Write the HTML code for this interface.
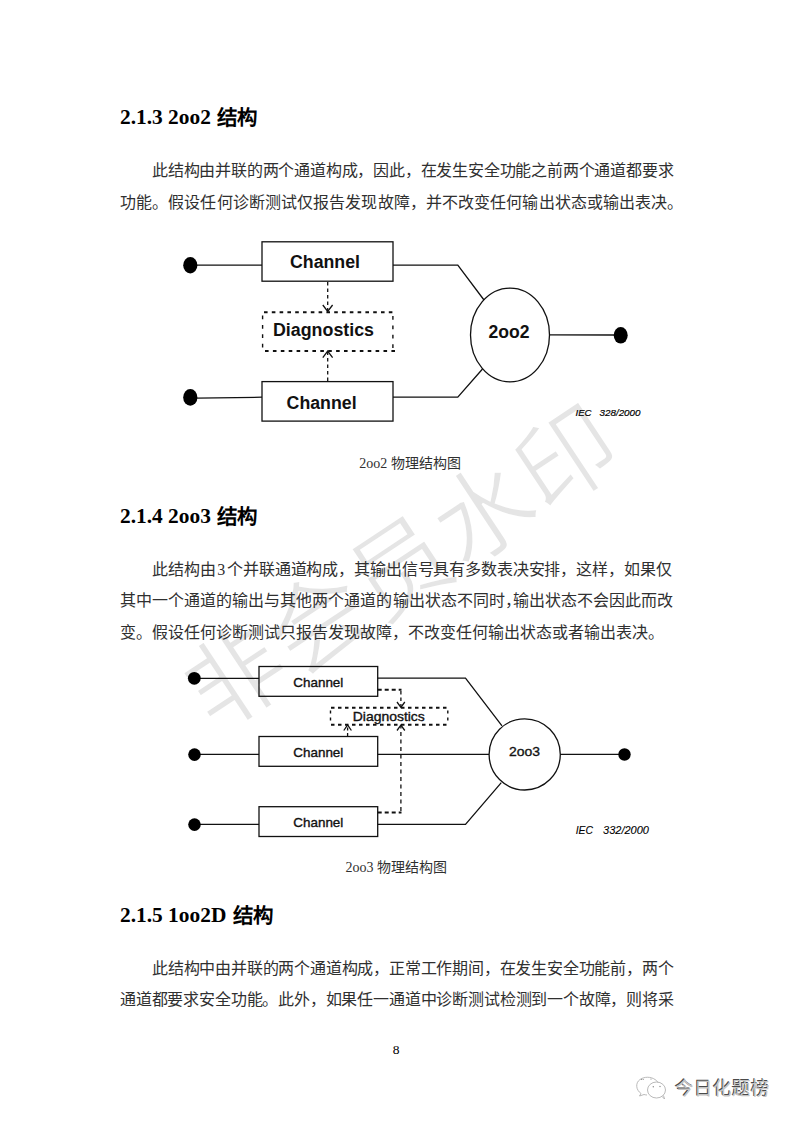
<!DOCTYPE html>
<html lang="zh-CN">
<head>
<meta charset="utf-8">
<style>
html,body{margin:0;padding:0;background:#fff;}
body{width:793px;height:1122px;position:relative;overflow:hidden;font-family:"Liberation Serif",serif;color:#303030;}
.l{position:absolute;white-space:nowrap;font-size:16px;line-height:16px;}
.h{position:absolute;white-space:nowrap;font-size:22px;line-height:22px;font-weight:bold;color:#000;transform:scaleX(0.972);transform-origin:0 0;}
.hc{position:absolute;white-space:nowrap;font-size:20.5px;line-height:22px;font-weight:bold;color:#000;}
.cap{position:absolute;white-space:nowrap;font-size:14px;line-height:14px;}
svg{position:absolute;left:0;top:0;}
.sans{font-family:"Liberation Sans",sans-serif;}
</style>
</head>
<body>
<!-- watermark -->
<div id="wm" style="position:absolute;left:402px;top:569px;width:0;height:0;">
<div style="position:absolute;left:-300px;top:-50px;width:600px;height:100px;transform:rotate(-33.5deg);transform-origin:300px 50px;font-family:'Liberation Sans',sans-serif;font-size:99px;line-height:100px;color:#e5e5e5;font-weight:300;-webkit-text-stroke:2px #fff;text-align:center;white-space:nowrap;">非会员水印</div>
</div>

<div class="h" style="left:120px;top:105.5px">2.1.3 2oo2</div><div class="hc" style="left:217px;top:107px">结构</div>
<div class="l" style="left:152px;top:162.5px;letter-spacing:-0.2px">此结构由并联的两个通道构成，因此，在发生安全功能之前两个通道都要求</div>
<div class="l" style="left:120px;top:194.5px;letter-spacing:0.1px">功能。假设任何诊断测试仅报告发现故障，并不改变任何输出状态或输出表决。</div>

<div class="cap" style="left:359.3px;top:456.5px">2oo2 物理结构图</div>

<div class="h" style="left:120px;top:504.5px">2.1.4 2oo3</div><div class="hc" style="left:217px;top:506px">结构</div>
<div class="l" style="left:152px;top:561.5px;letter-spacing:-0.13px;word-spacing:-2px">此结构由 3 个并联通道构成，其输出信号具有多数表决安排，这样，如果仅</div>
<div class="l" style="left:120px;top:592.5px;letter-spacing:0.03px">其中一个通道的输出与其他两个通道的输出状态不同时<span style="margin-right:-8px">，</span>输出状态不会因此而改</div>
<div class="l" style="left:120px;top:624.5px;letter-spacing:0px">变。假设任何诊断测试只报告发现故障，不改变任何输出状态或者输出表决。</div>

<div class="cap" style="left:345.4px;top:860.5px">2oo3 物理结构图</div>

<div class="h" style="left:120px;top:903.5px">2.1.5 1oo2D</div><div class="hc" style="left:232.7px;top:905px">结构</div>
<div class="l" style="left:152px;top:960.5px;letter-spacing:-0.2px">此结构中由并联的两个通道构成，正常工作期间，在发生安全功能前，两个</div>
<div class="l" style="left:120px;top:991.5px;letter-spacing:-0.18px">通道都要求安全功能。此外，如果任一通道中诊断测试检测到一个故障，则将采</div>

<div class="cap" style="left:392.8px;top:1042.5px;font-size:13.5px;line-height:13px;color:#000">8</div>


<svg width="793" height="1122" style="z-index:1" font-family="Liberation Sans, sans-serif">
<g stroke="#111" stroke-width="1.3" fill="none">
 <!-- 2oo2 -->
 <line x1="197" y1="265.2" x2="262" y2="265.2"/>
 <rect x="262" y="241.8" width="131" height="39.4"/>
 <polyline points="393,265.2 457.8,265.2 484,300"/>
 <rect x="262" y="381.6" width="131" height="39.5"/>
 <line x1="197" y1="398.2" x2="262" y2="397.2"/>
 <polyline points="393,397.2 457.8,397.2 482.5,369"/>
 <ellipse cx="510" cy="335" rx="39.5" ry="46.8"/>
 <line x1="549.5" y1="334.8" x2="614" y2="335"/>
 <line x1="264" y1="312.2" x2="395" y2="312.2" stroke-width="2.1" stroke-dasharray="3.6 4.2"/>
 <line x1="265" y1="351" x2="395" y2="351" stroke-width="2.1" stroke-dasharray="3.6 4.3"/>
 <line x1="262.6" y1="315.5" x2="262.6" y2="350" stroke-width="1.4" stroke-dasharray="3.8 5.6"/>
 <line x1="392.9" y1="314" x2="392.9" y2="350" stroke-width="1.4" stroke-dasharray="3.8 5.6" stroke-dashoffset="-2"/>
 <line x1="327.7" y1="282" x2="327.7" y2="311" stroke-dasharray="3.5 3"/>
 <polyline points="322.8,305 327.7,311.5 332.6,305"/>
 <line x1="327.7" y1="381" x2="327.7" y2="352" stroke-dasharray="3.5 3"/>
 <polyline points="322.8,357.6 327.7,351 332.6,357.6"/>
 <!-- 2oo3 -->
 <line x1="200" y1="678.3" x2="259" y2="678.3"/>
 <line x1="200" y1="754.3" x2="259" y2="754.3"/>
 <line x1="200" y1="824.4" x2="259" y2="824.4"/>
 <rect x="259" y="666.5" width="118.7" height="29.8"/>
 <rect x="259" y="736.5" width="118.7" height="29.8"/>
 <rect x="259" y="806.7" width="118.7" height="29.8"/>
 <polyline points="377.7,678.2 465.5,678.2 502,725.8"/>
 <line x1="377.7" y1="754.3" x2="489" y2="754.3"/>
 <polyline points="377.7,824.4 465.5,824.4 501.3,782.6"/>
 <circle cx="524.7" cy="754.4" r="35.6"/>
 <line x1="560.3" y1="754.4" x2="620" y2="754.4"/>
 <line x1="331" y1="707.8" x2="449" y2="707.8" stroke-width="2.1" stroke-dasharray="3.5 3.5"/>
 <line x1="331" y1="724.8" x2="449" y2="724.8" stroke-width="2.1" stroke-dasharray="3.5 3.5"/>
 <line x1="330.5" y1="710.5" x2="330.5" y2="723" stroke-width="1.4" stroke-dasharray="3 4"/>
 <line x1="447.8" y1="710.5" x2="447.8" y2="723" stroke-width="1.4" stroke-dasharray="3 4"/>
 <line x1="377.7" y1="689.8" x2="401.5" y2="689.8" stroke-width="2" stroke-dasharray="4 3"/>
 <line x1="400.9" y1="691" x2="400.9" y2="707" stroke-width="1.3" stroke-dasharray="3.5 3"/>
 <polyline points="397,702 400.9,707.5 404.8,702"/>
 <line x1="377.7" y1="812.5" x2="401.5" y2="812.5" stroke-width="2" stroke-dasharray="4 3"/>
 <line x1="400.9" y1="811" x2="400.9" y2="726" stroke-width="1.3" stroke-dasharray="4 3.5"/>
 <polyline points="397,730.5 400.9,725 404.8,730.5"/>
 <line x1="347.6" y1="736" x2="347.6" y2="726" stroke-dasharray="3 2.5"/>
 <polyline points="343.8,730.5 347.6,725 351.4,730.5"/>
</g>
<g fill="#000">
 <ellipse cx="190.3" cy="265.3" rx="7.1" ry="8.2"/>
 <ellipse cx="190.3" cy="397.4" rx="7.1" ry="8.4"/>
 <ellipse cx="620.7" cy="335.3" rx="7" ry="8.3"/>
 <circle cx="194.3" cy="678.3" r="6.4"/>
 <circle cx="194.5" cy="754.6" r="6.3"/>
 <circle cx="194.5" cy="824.6" r="6.3"/>
 <circle cx="624.5" cy="754.5" r="6.2"/>
</g>
<g fill="#111" font-weight="bold" font-size="17.5">
 <text x="290" y="268" textLength="70" lengthAdjust="spacingAndGlyphs">Channel</text>
 <text x="286.6" y="409" textLength="70" lengthAdjust="spacingAndGlyphs">Channel</text>
 <text x="273" y="335.5" textLength="101" lengthAdjust="spacingAndGlyphs">Diagnostics</text>
 <text x="488.5" y="337.7" textLength="41" lengthAdjust="spacingAndGlyphs">2oo2</text>
</g>
<g fill="#111" font-size="13" stroke="#111" stroke-width="0.35">
 <text x="293.3" y="687.3" textLength="50" lengthAdjust="spacingAndGlyphs">Channel</text>
 <text x="293.3" y="757.1" textLength="50" lengthAdjust="spacingAndGlyphs">Channel</text>
 <text x="293.3" y="827.3" textLength="50" lengthAdjust="spacingAndGlyphs">Channel</text>
 <text x="352.8" y="720.7" textLength="72" lengthAdjust="spacingAndGlyphs">Diagnostics</text>
 <text x="509" y="756" textLength="31" lengthAdjust="spacingAndGlyphs">2oo3</text>
</g>
<g fill="#000" font-style="italic" font-size="9.6" stroke="#000" stroke-width="0.2">
 <text x="575.5" y="415.9">IEC</text>
 <text x="599.5" y="415.9" textLength="41" lengthAdjust="spacingAndGlyphs">328/2000</text>
 <text x="575.7" y="834" font-size="10.4" stroke-width="0.1">IEC</text>
 <text x="603" y="834" font-size="10.4" stroke-width="0.1" textLength="46" lengthAdjust="spacingAndGlyphs">332/2000</text>
</g>
</svg>


<svg width="793" height="1122" style="z-index:2" fill="none">
 <g stroke="#a8a8a8" stroke-width="0.8">
  <path d="M641,1093.5 C636,1090 635,1083 640,1079.5 C644,1076.5 651,1076.5 655,1079.5 C656.5,1080.5 657.5,1081.5 658,1082.5"/>
  <path d="M641,1093.5 L639.5,1096 L644,1094.5 C645,1094.8 646,1094.9 647,1095"/>
  <ellipse cx="656.5" cy="1090" rx="9" ry="8"/>
  <path d="M662,1096.5 L664.5,1099 L663.5,1095.5"/>
 </g>
 <g fill="#888">
  <circle cx="641.5" cy="1079.3" r="0.6"/><circle cx="643.2" cy="1079.3" r="0.6"/><circle cx="651" cy="1079" r="0.6"/>
  <circle cx="653.3" cy="1086.8" r="0.7"/><circle cx="660" cy="1086.5" r="0.7"/>
 </g>
</svg>
<div style="position:absolute;left:674.5px;top:1078.5px;font-family:'Liberation Sans',sans-serif;font-size:18.5px;line-height:20px;color:#c4c4c4;text-shadow:-0.8px -0.6px 0 #4a4a4a;white-space:nowrap;z-index:3">今日化题榜</div>
</body>
</html>
